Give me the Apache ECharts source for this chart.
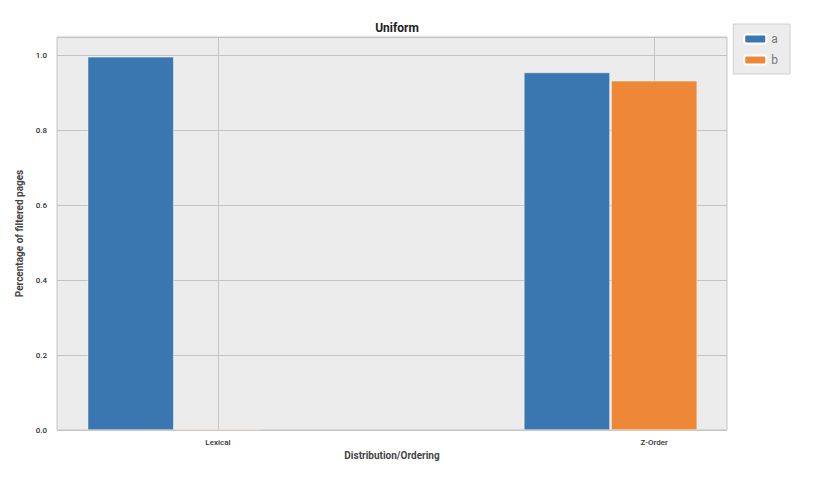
<!DOCTYPE html>
<html><head><meta charset="utf-8">
<script src="https://cdn.jsdelivr.net/npm/echarts@6/dist/echarts.min.js"></script>
<style>html,body{margin:0;background:#fff}#c{width:823px;height:479px}</style>
</head><body><div id="c"></div>
<script>
// 数据
const categories = ["Lexical", "Z-Order"];
const seriesNames = ["a", "b"];
const valuesA = [0.997, 0.955];
const valuesB = [0.003, 0.933];
const colors = ["#3a76b0", "#ee8736"];

const chart = echarts.init(document.getElementById('c'), null, {renderer: 'svg'});
// 每组内柱子相对刻度的位置: a 在左侧, b 居于刻度
const shifts = [-0.2, 0];
function toPoints(vals, shift) {
  return vals.map((v, i) => [i + shift, v]);
}
const catIdx = categories.map((c, i) => i);

chart.setOption({
  animation: false,
  textStyle: {fontFamily: 'Roboto'},
  title: {text: 'Uniform', left: 392, top: 17, textAlign: 'center',
    textStyle: {fontSize: 12, fontWeight: 'bold', color: '#222'}},
  legend: {
    right: 33, top: 24, orient: 'vertical', itemWidth: 22, itemHeight: 9, itemGap: 9,
    padding: [9, 12, 8, 10], backgroundColor: '#ececec', borderColor: '#d0d0d0', borderWidth: 1,
    textStyle: {color: '#777', fontSize: 12}, data: seriesNames
  },
  grid: {left: 57, right: 96, top: 37, bottom: 49, show: true, backgroundColor: '#ececec',
    borderColor: '#c4c4c4', borderWidth: 1},
  xAxis: {
    type: 'value', min: -0.369, max: 1.167,
    name: 'Distribution/Ordering', nameLocation: 'middle', nameGap: 18,
    nameTextStyle: {fontSize: 10, fontWeight: 'bold', color: '#444'},
    axisLine: {show: false},
    axisTick: {show: false, customValues: catIdx},
    axisLabel: {customValues: catIdx, formatter: v => categories[Math.round(v)] || '',
      fontSize: 8, color: '#333', fontWeight: 500, margin: 8},
    splitLine: {show: true, lineStyle: {color: '#c4c4c4', width: 1}}
  },
  yAxis: {
    type: 'value', min: 0, max: 1.05, interval: 0.2,
    name: 'Percentage of filtered pages', nameLocation: 'middle', nameGap: 30,
    nameTextStyle: {fontSize: 10, fontWeight: 'bold', color: '#444'},
    axisLine: {show: false}, axisTick: {show: false},
    axisLabel: {formatter: v => v.toFixed(1), fontSize: 8, color: '#333', fontWeight: 500,
      margin: 10, showMaxLabel: false},
    splitLine: {lineStyle: {color: '#c4c4c4', width: 1}}
  },
  series: [
    {name: 'a', type: 'bar', barWidth: 86, data: toPoints(valuesA, shifts[0]),
      itemStyle: {color: colors[0], borderColor: '#fff', borderWidth: 0.5}},
    {name: 'b', type: 'bar', barWidth: 86, barGap: '-100%', data: toPoints(valuesB, shifts[1]),
      itemStyle: {color: colors[1], borderColor: '#fff', borderWidth: 0.5}}
  ]
});
</script></body></html>
